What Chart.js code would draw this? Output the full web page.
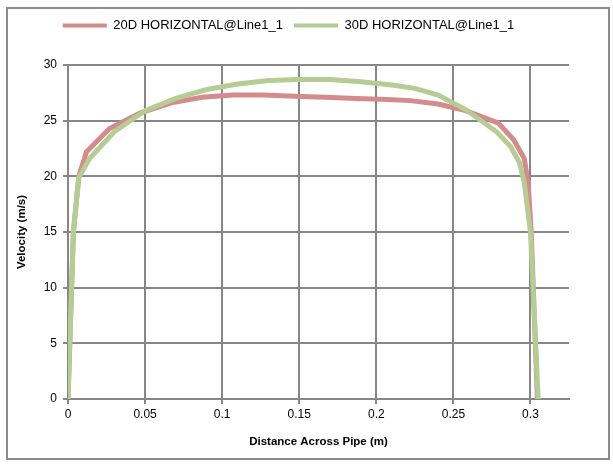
<!DOCTYPE html>
<html>
<head>
<meta charset="utf-8">
<script src="https://cdn.jsdelivr.net/npm/chart.js@4/dist/chart.umd.min.js"></script>
<style>
  html, body { margin: 0; padding: 0; background: #fff; }
  #wrap { width: 613px; height: 466px; }
</style>
</head>
<body>
<div id="wrap"><canvas id="grafico" width="613" height="466"></canvas></div>
<script>
// Datos (distancia en m, velocidad en m/s)
const serie20Nombre = '20D HORIZONTAL@Line1_1';
const serie20X = [0, 0.0035, 0.007, 0.012, 0.027, 0.047, 0.067, 0.087, 0.107, 0.127, 0.147, 0.167, 0.187, 0.207, 0.222, 0.24, 0.258, 0.279, 0.289, 0.296, 0.2985, 0.3005, 0.3045];
const serie20Y = [0, 15, 20, 22.2, 24.3, 25.7, 26.6, 27.1, 27.3, 27.3, 27.2, 27.1, 27.0, 26.9, 26.8, 26.5, 25.9, 24.8, 23.3, 21.6, 19.4, 15, 0];

const serie30Nombre = '30D HORIZONTAL@Line1_1';
const serie30X = [0, 0.0035, 0.007, 0.014, 0.03, 0.05, 0.07, 0.09, 0.11, 0.13, 0.15, 0.17, 0.19, 0.21, 0.225, 0.24, 0.258, 0.278, 0.287, 0.293, 0.296, 0.3, 0.305];
const serie30Y = [0, 15, 19.9, 21.6, 24.0, 25.9, 27.0, 27.8, 28.3, 28.6, 28.7, 28.7, 28.5, 28.2, 27.9, 27.3, 26.0, 24.0, 22.7, 21.2, 19.4, 15, 0];

const ticksX = [0, 0.05, 0.1, 0.15, 0.2, 0.25, 0.3];
const ticksY = [0, 5, 10, 15, 20, 25, 30];

const tituloX = 'Distance Across Pipe (m)';
const tituloY = 'Velocity (m/s)';

function puntos(xs, ys) {
    return xs.map((x, i) => ({ x: x, y: ys[i] }));
}

const gris = '#878787';
const fuente = "'Liberation Sans', Arial, sans-serif";

// Marco exterior del gráfico
const marco = {
    id: 'marco',
    beforeDraw(chart) {
        const ctx = chart.ctx;
        ctx.save();
        ctx.fillStyle = '#fff';
        ctx.fillRect(0, 0, chart.width, chart.height);
        ctx.strokeStyle = '#8c8c8c';
        ctx.lineWidth = 2;
        ctx.strokeRect(7, 8, 602, 451);
        ctx.restore();
    }
};

// Altura fija de la leyenda
const alturaLeyenda = {
    id: 'alturaLeyenda',
    afterInit(chart) {
        const fit = chart.legend.fit;
        chart.legend.fit = function() {
            fit.call(this);
            this.height = 57;
        };
    }
};

new Chart(document.getElementById('grafico'), {
    type: 'line',
    data: {
        datasets: [{
            label: serie20Nombre,
            data: puntos(serie20X, serie20Y),
            borderColor: 'rgb(211,139,139)',
            backgroundColor: 'rgb(211,139,139)',
            borderWidth: 5,
            pointRadius: 0,
            tension: 0,
            order: 2
        }, {
            label: serie30Nombre,
            data: puntos(serie30X, serie30Y),
            borderColor: 'rgb(181,205,147)',
            backgroundColor: 'rgb(181,205,147)',
            borderWidth: 5,
            pointRadius: 0,
            tension: 0,
            order: 1
        }]
    },
    options: {
        responsive: false,
        animation: false,
        layout: { padding: { top: 8, left: 8, right: 44, bottom: 14 } },
        plugins: {
            tooltip: { enabled: false },
            legend: {
                position: 'top',
                labels: {
                    color: '#000',
                    font: { family: fuente, size: 13 },
                    boxWidth: 44,
                    boxHeight: 4,
                    padding: 11,
                    sort: (a, b) => a.datasetIndex - b.datasetIndex,
                    generateLabels(chart) {
                        const items = Chart.defaults.plugins.legend.labels.generateLabels(chart);
                        items.forEach(it => { it.lineWidth = 0; it.strokeStyle = it.fillStyle; });
                        return items;
                    }
                }
            }
        },
        scales: {
            x: {
                type: 'linear',
                min: 0,
                max: 0.325,
                afterBuildTicks(scale) {
                    scale.ticks = ticksX.map(v => ({ value: v }));
                },
                afterFit(scale) { scale.height = 53; },
                grid: { color: gris, lineWidth: 2, tickLength: 5, drawTicks: true },
                border: { color: gris, width: 2 },
                ticks: {
                    color: '#000',
                    font: { family: fuente, size: 12 },
                    padding: 3,
                    maxRotation: 0,
                    callback: v => String(Math.round(v * 100) / 100)
                },
                title: {
                    display: true,
                    text: tituloX,
                    color: '#000',
                    font: { family: fuente, size: 11.5, weight: 'bold' },
                    padding: { top: 0, bottom: 3 }
                }
            },
            y: {
                min: 0,
                max: 30,
                afterBuildTicks(scale) {
                    scale.ticks = ticksY.map(v => ({ value: v }));
                },
                afterFit(scale) { scale.width = 60; },
                grid: { color: gris, lineWidth: 2, tickLength: 5 },
                border: { color: gris, width: 2 },
                ticks: {
                    color: '#000',
                    font: { family: fuente, size: 12 },
                    padding: 6
                },
                title: {
                    display: true,
                    text: tituloY,
                    color: '#000',
                    font: { family: fuente, size: 11.5, weight: 'bold' },
                    padding: { top: 7, bottom: 0 }
                }
            }
        }
    },
    plugins: [marco, alturaLeyenda]
});
</script>
</body>
</html>
